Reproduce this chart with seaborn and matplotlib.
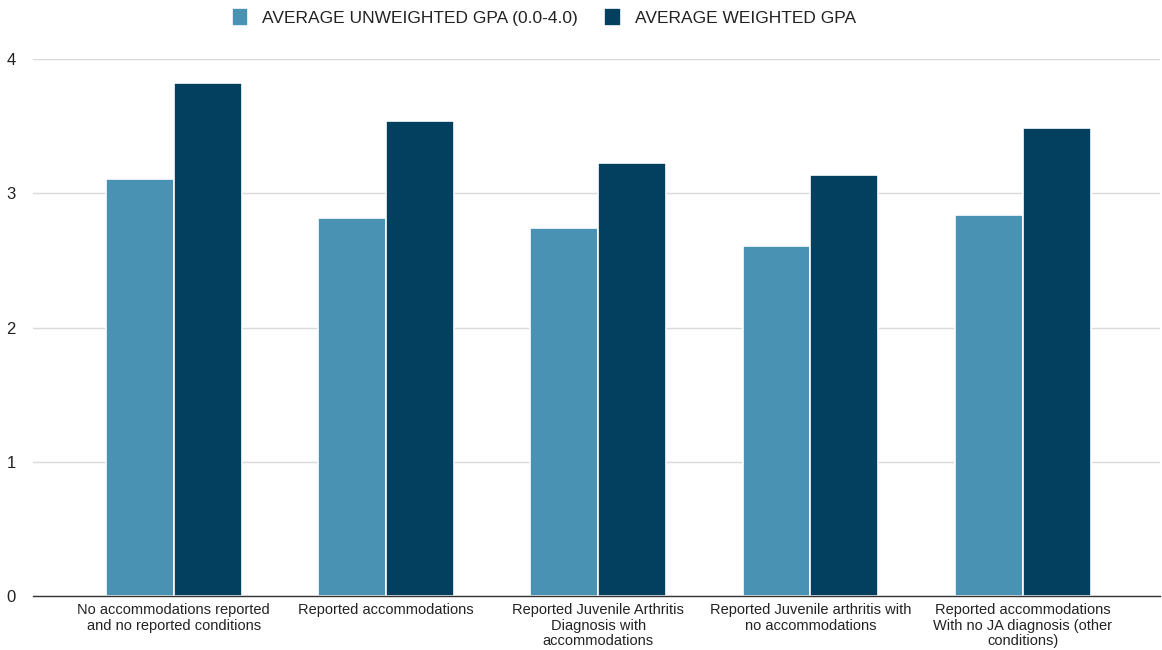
import matplotlib
matplotlib.use("Agg")
import matplotlib.pyplot as plt
import seaborn as sns
import pandas as pd

categories = [
    "No accommodations reported\nand no reported conditions",
    "Reported accommodations",
    "Reported Juvenile Arthritis\nDiagnosis with\naccommodations",
    "Reported Juvenile arthritis with\nno accommodations",
    "Reported accommodations\nWith no JA diagnosis (other\nconditions)",
]
series_names = ["AVERAGE UNWEIGHTED GPA (0.0-4.0)", "AVERAGE WEIGHTED GPA"]
unweighted = [3.11, 2.82, 2.74, 2.61, 2.84]
weighted = [3.82, 3.54, 3.23, 3.14, 3.49]
yticks = [0, 1, 2, 3, 4]

colors = ["#4A92B3", "#03405F"]

df = pd.DataFrame({
    "category": categories * 2,
    "series": [series_names[0]] * len(categories) + [series_names[1]] * len(categories),
    "value": unweighted + weighted,
})

sns.set_theme(style="white")
plt.rcParams["font.family"] = ["Liberation Sans", "DejaVu Sans"]

fig = plt.figure(figsize=(11.62, 6.5), dpi=100)
ax = fig.add_axes([0.028, 0.083, 0.970, 0.826])

sns.barplot(data=df, x="category", y="value", hue="series", palette=colors,
            width=0.64, gap=0.0, edgecolor="white", linewidth=1.2,
            saturation=1, ax=ax, legend=True)

ax.set_xlim(-0.665, 4.645)
ax.set_ylim(0, 4)
ax.set_yticks(yticks)
ax.set_yticklabels([str(t) for t in yticks], fontsize=12, color="#222222")
ax.tick_params(axis="y", length=0, pad=12)
ax.tick_params(axis="x", length=0, pad=5, labelsize=10.5, labelcolor="#222222")
for lbl in ax.get_xticklabels():
    lbl.set_horizontalalignment("center")
    lbl.set_linespacing(1.15)
ax.set_xlabel("")
ax.set_ylabel("")
ax.grid(axis="y", color="#D9D9D9", linewidth=1)
ax.set_axisbelow(True)
for s in ["left", "right", "top"]:
    ax.spines[s].set_visible(False)
ax.spines["bottom"].set_color("#333333")
ax.spines["bottom"].set_linewidth(1)
ax.spines["bottom"].set_zorder(5)

handles, labels = ax.get_legend_handles_labels()
ax.get_legend().remove()
fig.legend(handles, labels, loc="upper center", bbox_to_anchor=(0.468, 1.012),
           ncol=2, frameon=False, fontsize=12.5, handlelength=0.95,
           handleheight=1.2, columnspacing=1.5, handletextpad=0.8,
           labelcolor="#222222")

fig.savefig("out.png", dpi=100)
